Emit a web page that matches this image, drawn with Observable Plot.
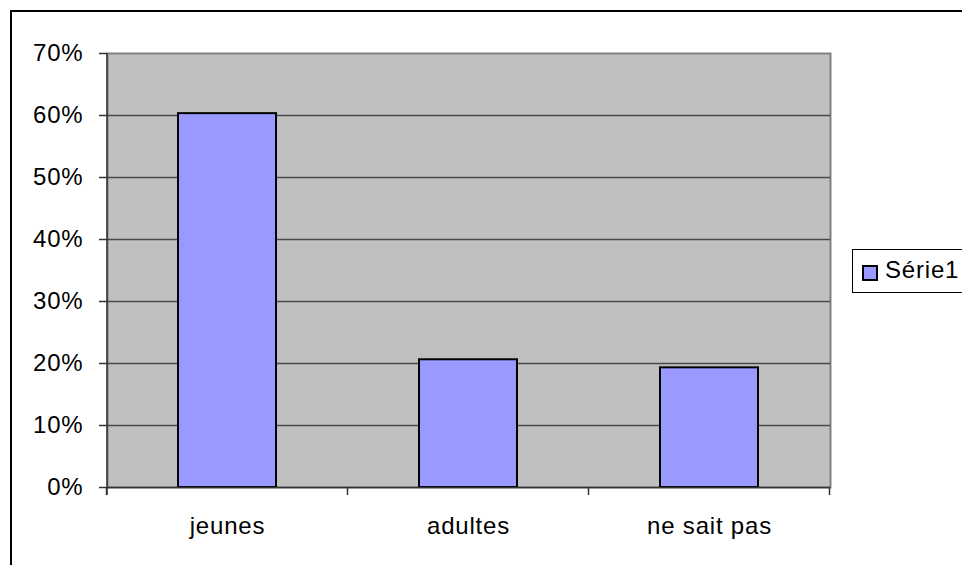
<!DOCTYPE html>
<html><head><meta charset="utf-8">
<script src="https://cdn.jsdelivr.net/npm/d3@7"></script>
<script src="https://cdn.jsdelivr.net/npm/@observablehq/plot@0.6"></script>
<style>
html,body{margin:0;padding:0;background:#fff;overflow:hidden;}
#wrap{position:relative;width:962px;height:565px;font-family:"Liberation Sans",Arial,sans-serif;overflow:hidden;}
#chart{position:absolute;left:0;top:0;}
#border{position:absolute;left:10px;top:10px;width:1000px;height:700px;border:2px solid #000;box-sizing:border-box;pointer-events:none;}
#legend{position:absolute;left:852px;top:249px;width:140px;height:44px;border:1px solid #000;box-sizing:border-box;background:#fff;}
#legend .sw{position:absolute;left:9px;top:15px;width:16px;height:16px;box-sizing:border-box;border:2px solid #000;background:#9999FF;}
#legend .lb{position:absolute;left:32px;top:8px;font-size:24px;line-height:24px;color:#000;white-space:nowrap;letter-spacing:0.8px;}
</style>
</head><body>
<div id="wrap"><div id="chart"></div><div id="border"></div><div id="legend"><div class="sw"></div><div class="lb"></div></div></div>
<script>
const categories = ["jeunes", "adultes", "ne sait pas"];
const values = [0.603, 0.206, 0.193];
const yTicks = [0, 0.1, 0.2, 0.3, 0.4, 0.5, 0.6, 0.7];
const seriesName = "Série1";

const data = categories.map((c, i) => ({category: c, value: values[i]}));

const axisLines = (index, scales, vals, dimensions) => {
  const x = scales.x;
  const step = x.step(), bw = x.bandwidth();
  const y0 = dimensions.height - dimensions.marginBottom;
  const xs = categories.map(c => x(c) + bw / 2 - step / 2);
  xs.push(x(categories[categories.length - 1]) + bw / 2 + step / 2);
  const g = d3.create("svg:g").attr("stroke", "#333").attr("stroke-width", 1.5);
  g.selectAll("line.t").data(xs).join("line").attr("class", "t")
    .attr("x1", d => d).attr("x2", d => d).attr("y1", y0).attr("y2", y0 + 8);
  g.append("line")
    .attr("x1", dimensions.marginLeft).attr("x2", dimensions.marginLeft)
    .attr("y1", dimensions.marginTop).attr("y2", y0 + 8);
  return g.node();
};

const chart = Plot.plot({
  width: 962, height: 565,
  marginLeft: 107, marginTop: 53, marginRight: 132, marginBottom: 78,
  style: {fontFamily: "Liberation Sans, Arial, sans-serif", fontSize: "24px", color: "#000", background: "transparent", overflow: "visible", letterSpacing: "0.8px"},
  x: {domain: categories, paddingInner: 0.593, paddingOuter: 0.2965, label: null},
  y: {domain: [0, 0.7], label: null},
  marks: [
    Plot.frame({fill: "#C0C0C0", stroke: "#808080", strokeWidth: 2}),
    Plot.ruleY(yTicks.slice(1, -1), {stroke: "#4a4a4a", strokeWidth: 1.5}),
    Plot.barY(data, {x: "category", y: "value", fill: "#9999FF", stroke: "#000", strokeWidth: 2}),
    Plot.axisY({ticks: yTicks, tickFormat: d3.format(".0%"), tickSize: 8, tickPadding: 16, stroke: "#333", strokeWidth: 1.5, fontSize: 24, label: null}),
    Plot.axisX({tickSize: 0, tickPadding: 29, fontSize: 24, label: null}),
    Plot.ruleY([0], {stroke: "#333", strokeWidth: 1.5}),
    axisLines
  ]
});
document.getElementById("chart").appendChild(chart);
document.querySelector("#legend .lb").textContent = seriesName;
</script>
</body></html>
